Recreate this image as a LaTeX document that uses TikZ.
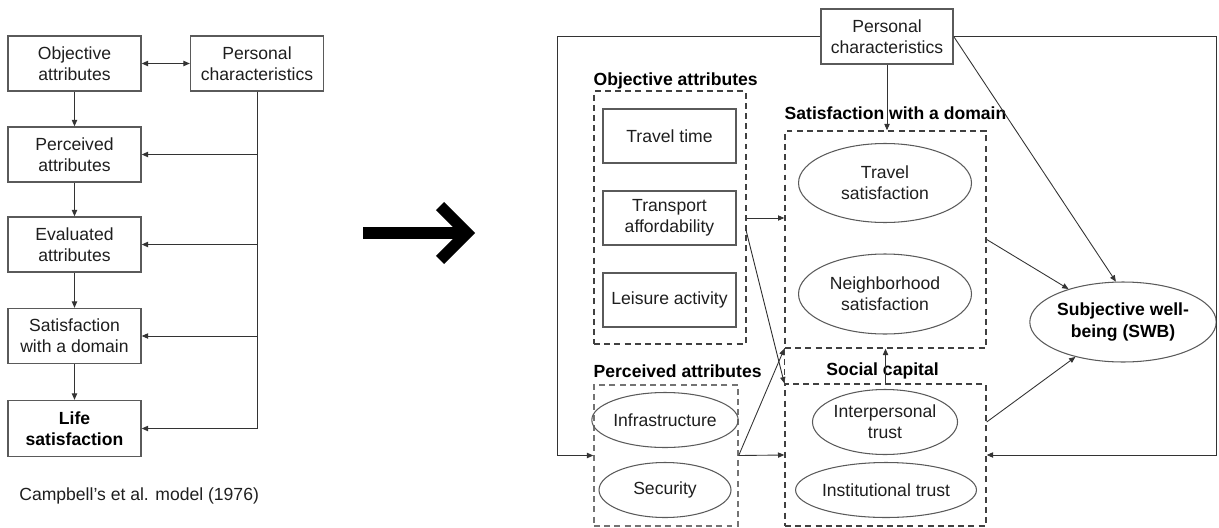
\documentclass[tikz,border=0pt]{standalone}
\usepackage{fontspec}
\setmainfont{Liberation Sans}
\usepackage{tikz}
\usetikzlibrary{arrows.meta, shapes.geometric, calc}
\definecolor{boxGray}{RGB}{90, 90, 90}
\definecolor{textGray}{RGB}{30, 30, 30}
\tikzset{
  base/.style={font=\fontsize{10}{12}\selectfont, text=textGray, align=center, inner sep=0pt},
  sqbox/.style={base, draw=boxGray, line width=0.8pt, rectangle},
  ovbox/.style={base, draw=boxGray, line width=0.6pt, ellipse},
  dashbox/.style={draw=black!75, line width=0.8pt, dash pattern=on 3.4pt off 2.4pt, rectangle, inner sep=0pt},
  grouplabel/.style={base, font=\fontsize{10}{12}\selectfont\bfseries, text=black, inner sep=0pt},
  conn/.style={black!80, line width=0.5pt, -{Triangle[length=3.6pt, width=3pt]}},
  bigarrow/.style={black, line width=0.23cm, miter limit=10}
}

\begin{document}
\begin{tikzpicture}[x=0.02cm, y=-0.02cm]

  \useasboundingbox (0, 0) rectangle (1219, 527);

  % Campbell's model
  \node[sqbox, minimum width=2.66cm, minimum height=1.1cm] (cObj) at (74.5, 63.5) {Objective\\attributes};
  \node[sqbox, minimum width=2.66cm, minimum height=1.1cm] (cPers) at (257, 63.5) {Personal\\characteristics};
  \node[sqbox, minimum width=2.66cm, minimum height=1.1cm] (cPerc) at (74.5, 154.5) {Perceived\\attributes};
  \node[sqbox, minimum width=2.66cm, minimum height=1.1cm] (cEval) at (74.5, 244.5) {Evaluated\\attributes};
  \node[sqbox, minimum width=2.66cm, minimum height=1.1cm] (cSat) at (74.5, 336) {Satisfaction\\with a domain};
  \node[sqbox, minimum width=2.66cm, minimum height=1.12cm, font=\fontsize{10}{12}\selectfont\bfseries, text=black] (cLife) at (74.5, 428.5) {Life\\satisfaction};
  \node[base, anchor=west] (cCap) at (19, 496) {Campbell's et al. model (1976)};

  \draw[conn, {Triangle[length=3.6pt, width=3pt]}-{Triangle[length=3.6pt, width=3pt]}] (cObj) -- (cPers);
  \draw[conn] (cObj) -- (cPerc);
  \draw[conn] (cPerc) -- (cEval);
  \draw[conn] (cEval) -- (cSat);
  \draw[conn] (cSat) -- (cLife);
  \draw[conn] (cPers.south) |- (cPerc.east);
  \draw[conn] (cPers.south) |- (cEval.east);
  \draw[conn] (cPers.south) |- (cSat.east);
  \draw[conn] (cPers.south) |- (cLife.east);

  % big arrow
  \draw[bigarrow] (363, 233) -- (464, 233);
  \draw[bigarrow] (440, 206) -- (467, 233) -- (440, 260);

  % extended model
  \node[sqbox, minimum width=2.64cm, minimum height=1.1cm] (pers) at (887, 36.5) {Personal\\characteristics};

  \node[dashbox, minimum width=3.04cm, minimum height=5.06cm] (objBox) at (670, 217.5) {};
  \node[dashbox, minimum width=4.02cm, minimum height=4.34cm] (satBox) at (885.5, 239.5) {};
  \node[dashbox, draw=black!55, minimum width=2.88cm, minimum height=2.82cm] (percBox) at (666, 455.5) {};
  \node[dashbox, minimum width=4.02cm, minimum height=2.84cm] (socBox) at (885.5, 455) {};

  \node[grouplabel, anchor=base west] (objLbl) at ([yshift=0.1cm]objBox.north west) {Objective attributes};
  \node[grouplabel, anchor=base west] (satLbl) at ([yshift=0.22cm]satBox.north west) {Satisfaction with a domain};
  \node[grouplabel, anchor=base west] (percLbl) at ([yshift=0.14cm]percBox.north west) {Perceived attributes};
  \node[grouplabel, anchor=base] (socLbl) at ([xshift=-0.06cm, yshift=0.16cm]socBox.north) {Social capital};

  \node[sqbox, minimum width=2.66cm, minimum height=1.08cm] (travTime) at (669.5, 136) {Travel time};
  \node[sqbox, minimum width=2.66cm, minimum height=1.08cm] (transAff) at (669.5, 218) {Transport\\affordability};
  \node[sqbox, minimum width=2.66cm, minimum height=1.08cm] (leisure) at (669.5, 300) {Leisure activity};

  \node[ovbox, minimum width=3.46cm, minimum height=1.58cm] (travSat) at (885, 183) {Travel\\satisfaction};
  \node[ovbox, minimum width=3.46cm, minimum height=1.6cm] (neighSat) at (885, 294) {Neighborhood\\satisfaction};
  \node[ovbox, minimum width=2.64cm, minimum height=1.1cm] (infra) at (665, 420) {Infrastructure};
  \node[ovbox, minimum width=2.64cm, minimum height=1.1cm] (secur) at (665, 490) {Security};
  \node[ovbox, minimum width=2.9cm, minimum height=1.3cm] (interTrust) at (885, 422) {Interpersonal\\trust};
  \node[ovbox, minimum width=2.72cm, minimum height=1.1cm] (instTrust) at (886, 490) {Institutional trust};
  \node[ovbox, minimum width=3.44cm, minimum height=1.6cm, font=\fontsize{10}{12}\selectfont\bfseries, text=black] (swb) at (1123, 322) {Subjective well-\\being (SWB)};

  \coordinate (frameL) at (557, 455.5);
  \coordinate (frameR) at (1216, 455);
  \coordinate (objOut) at (746, 230);

  \draw[conn] (pers.west) -| (frameL) -- (percBox.west);
  \draw[conn] (pers.east) -| (frameR) -- (socBox.east);
  \draw[conn] (pers.south) -- (pers.south |- satBox.north);
  \draw[conn] (pers.east) -- (swb.100);
  \draw[conn] (transAff -| objBox.east) -- (transAff -| satBox.west);
  \draw[conn] (objOut) -- (socBox.north west);
  \draw[conn] (percBox.east) -- (satBox.south west);
  \draw[conn] (percBox.east) -- (socBox.west);
  \draw[conn] (socBox.north) -- (satBox.south);
  \draw[conn] (satBox.east) -- (swb);
  \draw[conn] (interTrust -| socBox.east) -- (swb);
  \draw[dashbox] (satBox.south west) -- (socBox.north west);

\end{tikzpicture}
\end{document}
